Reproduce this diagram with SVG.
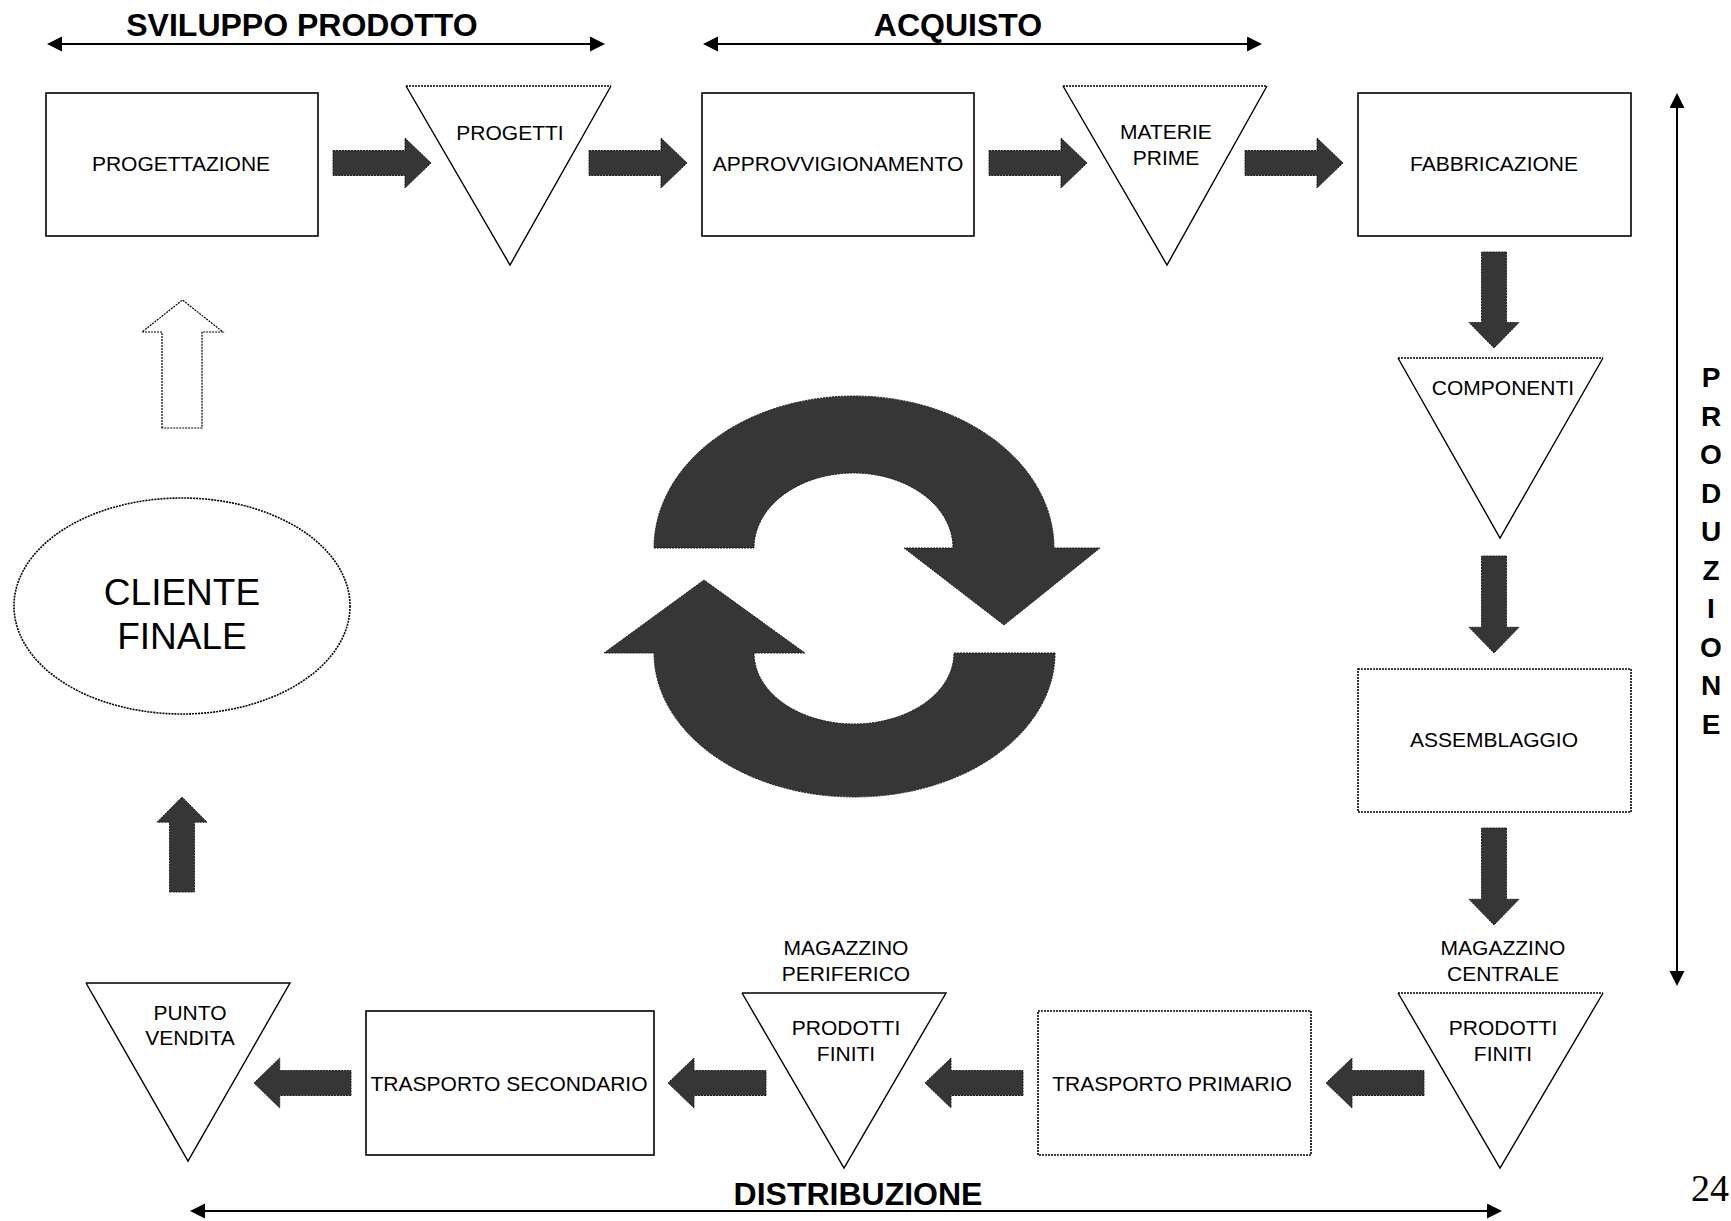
<svg xmlns="http://www.w3.org/2000/svg" xmlns:xlink="http://www.w3.org/1999/xlink" width="1731" height="1221" viewBox="0 0 1731 1221">
<style>
  text { font-family: "Liberation Sans", Arial, sans-serif; fill: #000; text-anchor: middle; }
  .lbl { font-size: 21px; }
  .hdr { font-size: 32px; font-weight: bold; }
  .vert { font-size: 28px; font-weight: bold; }
  .big { font-size: 37px; }
  .num { font-family: "Liberation Serif", "Times New Roman", serif; font-size: 38px; text-anchor: start; }
  .box { fill: #fff; stroke: #000; stroke-width: 1.6; }
  .dbox { fill: #fff; stroke: #000; stroke-width: 1.6; stroke-dasharray: 2 1; }
  .tri { fill: #fff; stroke: none; }
  .side { fill: none; stroke: #000; stroke-width: 1.4; }
  .dtop { fill: none; stroke: #000; stroke-width: 1.6; stroke-dasharray: 2 1; }
  .blk { fill: #363636; stroke: #1a1a1a; stroke-width: 1; stroke-dasharray: 2 1; }
  .wht { fill: #fff; stroke: #000; stroke-width: 1.2; stroke-dasharray: 2 1; }
  .span { stroke: #000; stroke-width: 2; fill: none; marker-start: url(#tip); marker-end: url(#tip); }
</style>
<defs>
  <marker id="tip" markerUnits="userSpaceOnUse" markerWidth="16" markerHeight="16" refX="1" refY="7.5" orient="auto-start-reverse">
    <path d="M0,0 L15,7.5 L0,15 Z" fill="#000"/>
  </marker>
  <path id="barrow" d="M0,-12.5 H72 V-25 L98,0 L72,25 V12.5 H0 Z"/>
</defs>

<g id="section-labels">
  <text class="hdr" x="302" y="36">SVILUPPO PRODOTTO</text>
  <text class="hdr" x="958" y="36">ACQUISTO</text>
  <text class="hdr" x="858" y="1205">DISTRIBUZIONE</text>
  <g id="produzione-label">
    <text class="vert" x="1711" y="387">P</text>
    <text class="vert" x="1711" y="425.5">R</text>
    <text class="vert" x="1711" y="464">O</text>
    <text class="vert" x="1711" y="502.5">D</text>
    <text class="vert" x="1711" y="541">U</text>
    <text class="vert" x="1711" y="579.5">Z</text>
    <text class="vert" x="1711" y="618">I</text>
    <text class="vert" x="1711" y="656.5">O</text>
    <text class="vert" x="1711" y="695">N</text>
    <text class="vert" x="1711" y="733.5">E</text>
  </g>
  <text class="num" x="1691" y="1201">24</text>
</g>

<g id="connectors">
  <line class="span" x1="61" y1="44" x2="591" y2="44"/>
  <line class="span" x1="717" y1="44" x2="1248" y2="44"/>
  <line class="span" x1="1677" y1="107" x2="1677" y2="972"/>
  <line class="span" x1="204" y1="1211" x2="1488" y2="1211"/>

  <use xlink:href="#barrow" class="blk" transform="translate(333,163)"/>
  <use xlink:href="#barrow" class="blk" transform="translate(589,163)"/>
  <use xlink:href="#barrow" class="blk" transform="translate(989,163)"/>
  <use xlink:href="#barrow" class="blk" transform="translate(1245,163)"/>

  <use xlink:href="#barrow" class="blk" transform="translate(1494,252) rotate(90) scale(0.98,1)"/>
  <use xlink:href="#barrow" class="blk" transform="translate(1494,556) rotate(90) scale(0.99,1)"/>
  <use xlink:href="#barrow" class="blk" transform="translate(1494,828) rotate(90) scale(0.99,1)"/>

  <use xlink:href="#barrow" class="blk" transform="translate(1424,1083) rotate(180)"/>
  <use xlink:href="#barrow" class="blk" transform="translate(1023,1083) rotate(180)"/>
  <use xlink:href="#barrow" class="blk" transform="translate(766,1083) rotate(180)"/>
  <use xlink:href="#barrow" class="blk" transform="translate(351,1083) rotate(180) scale(0.99,1)"/>

  <use xlink:href="#barrow" class="blk" transform="translate(182,892) rotate(-90) scale(0.97,1)"/>
  <path class="wht" d="M162,428 V332 H142 L182.5,300 L223,332 H202 V428 Z"/>

  <g id="cycle">
    <path class="blk" d="M654,548 L754,548 A99.5,75 0 0 1 953,548 L904,548 L1004,625 L1100,548 L1054,548 A200,152 0 0 0 654,548 Z"/>
    <path class="blk" d="M1055,653 L954,653 A100,71 0 0 1 754,653 L805,653 L704,580 L604,653 L654,653 A200.5,144 0 0 0 1055,653 Z"/>
  </g>
</g>

<g id="node-progettazione">
  <rect class="box" x="46" y="93" width="272" height="143"/>
  <text class="lbl" x="181" y="171">PROGETTAZIONE</text>
</g>
<g id="node-progetti">
  <polygon class="tri" points="406,86 611,86 510,265"/>
  <polyline class="side" points="406,86 510,265 611,86"/>
  <line class="dtop" x1="406" y1="86" x2="611" y2="86"/>
  <text class="lbl" x="510" y="140">PROGETTI</text>
</g>
<g id="node-approvvigionamento">
  <rect class="box" x="702" y="93" width="272" height="143"/>
  <text class="lbl" x="838" y="171">APPROVVIGIONAMENTO</text>
</g>
<g id="node-materie-prime">
  <polygon class="tri" points="1063,86 1267,86 1167,265"/>
  <polyline class="side" points="1063,86 1167,265 1267,86"/>
  <line class="dtop" x1="1063" y1="86" x2="1267" y2="86"/>
  <text class="lbl" x="1166" y="138.5">MATERIE</text>
  <text class="lbl" x="1166" y="164.5">PRIME</text>
</g>
<g id="node-fabbricazione">
  <rect class="box" x="1358" y="93" width="273" height="143"/>
  <text class="lbl" x="1494" y="171">FABBRICAZIONE</text>
</g>
<g id="node-componenti">
  <polygon class="tri" points="1398,358 1603,358 1500,538"/>
  <polyline class="side" points="1398,358 1500,538 1603,358"/>
  <line class="dtop" x1="1398" y1="358" x2="1603" y2="358"/>
  <text class="lbl" x="1503" y="395">COMPONENTI</text>
</g>
<g id="node-assemblaggio">
  <rect class="dbox" x="1358" y="669" width="273" height="143"/>
  <text class="lbl" x="1494" y="747">ASSEMBLAGGIO</text>
</g>
<g id="node-magazzino-centrale">
  <text class="lbl" x="1503" y="955">MAGAZZINO</text>
  <text class="lbl" x="1503" y="981">CENTRALE</text>
  <polygon class="tri" points="1398,993 1603,993 1500,1168"/>
  <polyline class="side" points="1398,993 1500,1168 1603,993"/>
  <line class="dtop" x1="1398" y1="993" x2="1603" y2="993"/>
  <text class="lbl" x="1503" y="1035">PRODOTTI</text>
  <text class="lbl" x="1503" y="1061">FINITI</text>
</g>
<g id="node-trasporto-primario">
  <rect class="dbox" x="1038" y="1011" width="273" height="144"/>
  <text class="lbl" x="1172" y="1091">TRASPORTO PRIMARIO</text>
</g>
<g id="node-magazzino-periferico">
  <text class="lbl" x="846" y="955">MAGAZZINO</text>
  <text class="lbl" x="846" y="981">PERIFERICO</text>
  <polygon class="tri" points="742,993 946,993 844,1168"/>
  <polyline class="side" points="742,993 844,1168 946,993 742,993"/>
  <text class="lbl" x="846" y="1035">PRODOTTI</text>
  <text class="lbl" x="846" y="1061">FINITI</text>
</g>
<g id="node-trasporto-secondario">
  <rect class="box" x="366" y="1011" width="288" height="144"/>
  <text class="lbl" x="509" y="1091">TRASPORTO SECONDARIO</text>
</g>
<g id="node-punto-vendita">
  <polygon class="tri" points="86,983 290,983 188,1161"/>
  <polyline class="side" points="86,983 188,1161 290,983 86,983"/>
  <text class="lbl" x="190" y="1020">PUNTO</text>
  <text class="lbl" x="190" y="1045">VENDITA</text>
</g>
<g id="node-cliente-finale">
  <ellipse class="dbox" cx="182" cy="606" rx="168" ry="108" stroke-width="1.2"/>
  <text class="big" x="182" y="605">CLIENTE</text>
  <text class="big" x="182" y="649">FINALE</text>
</g>
</svg>
